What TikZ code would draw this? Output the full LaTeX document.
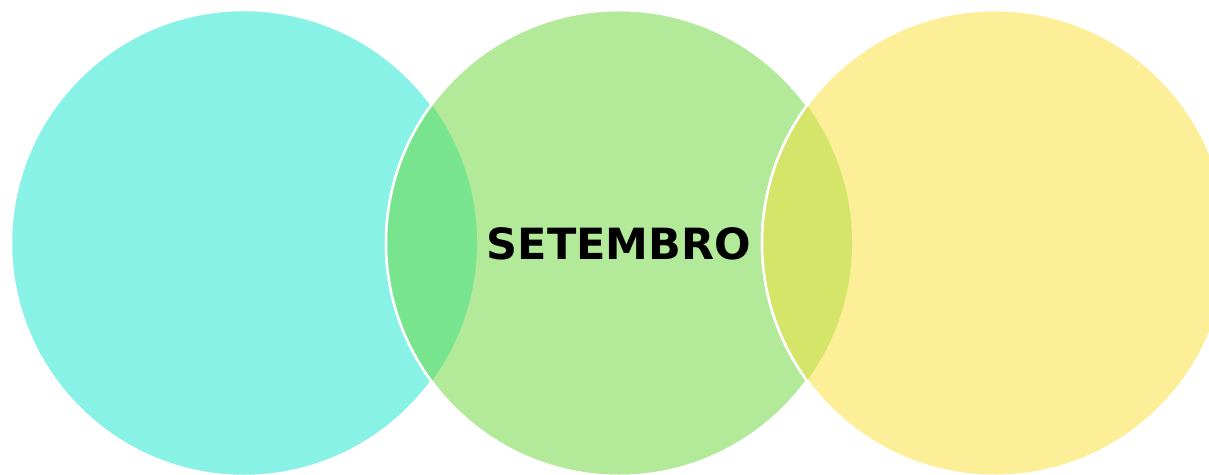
\documentclass[tikz,border=0pt]{standalone}
\usepackage{fontspec}
\setmainfont{DejaVu Sans}
\definecolor{cyanA}{HTML}{89F2E6}
\definecolor{greenA}{HTML}{B2EA9A}
\definecolor{yellowA}{HTML}{FCEF98}
\definecolor{lensL}{HTML}{78E48E}
\definecolor{lensR}{HTML}{D4E56A}
\tikzset{%
        ring/.style={
                circle,
                draw=white,
                line width=2.5pt,
                inner sep=0pt,
                minimum size=466pt
            },
        lens/.style={
                line width=0pt
            }
    }

\begin{document}
\begin{tikzpicture}[x=1pt,y=1pt]
    \useasboundingbox (0,0) rectangle (1209,474);
    \clip (0,0) rectangle (1209,474);

    % circles:
        \node [ring, fill=cyanA]  (left) at (244,231) {};
        \node [ring, fill=greenA] (mid) at (619,231) {};
        \begin{scope}
            \clip (left.center) circle (233);
            \fill [lensL] (mid.center) circle (233);
        \end{scope}
        \draw [white, line width=2.5pt] (mid.center) circle (233);
        \node [ring, fill=yellowA] (right) at (995,231) {};
        \begin{scope}
            \clip (mid.center) circle (233);
            \fill [lensR] (right.center) circle (233);
        \end{scope}
        \draw [white, line width=2.5pt] (right.center) circle (233);

    % label:
        \node [font=\fontsize{43}{50}\selectfont\bfseries] (month) at (619,230) {SETEMBRO};
\end{tikzpicture}
\end{document}
